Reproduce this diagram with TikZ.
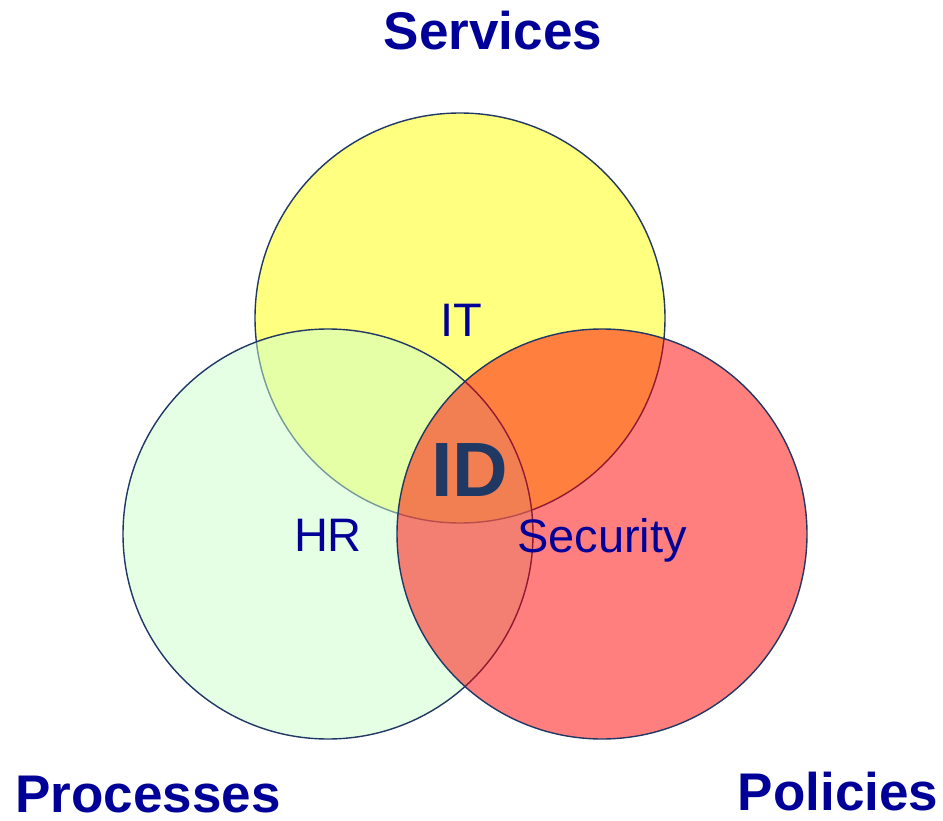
\documentclass[tikz,border=0pt]{standalone}
\usepackage{fontspec}
\setmainfont{Liberation Sans}
\usepackage{tikz}
\usetikzlibrary{positioning}
\definecolor{navyline}{HTML}{1F3864}
\definecolor{labelblue}{HTML}{000099}
\definecolor{setyellow}{HTML}{FFFF80}
\definecolor{setgreen}{HTML}{CCFFCC}
\definecolor{setred}{HTML}{FF0000}
\tikzstyle{set_circle}=[circle, inner sep=0pt, minimum size=410pt, draw=navyline, line width=1.4pt]
\tikzstyle{set_title}=[text=labelblue, inner sep=0pt, font=\fontsize{53}{60}\selectfont\bfseries]
\tikzstyle{set_label}=[text=labelblue, font=\fontsize{47}{54}\selectfont]

\begin{document}
\begin{tikzpicture}[x=1pt,y=-1pt]
\useasboundingbox (0,0) rectangle (943,821);
\node[set_circle, fill=setyellow] (svc) at (460,318){};
\node[set_circle, fill=setgreen, fill opacity=0.5] (proc) at (328,534){};
\node[set_circle, fill=setred, fill opacity=0.5] (pol) at (602,534){};
\node[set_label] (it) at (461,320){IT};
\node[set_label] (hr) at (328,535){HR};
\node[set_label] (sec) at (602,540){Security};
\node[text=navyline, font=\fontsize{77}{84}\selectfont\bfseries] (id) at (470,470){ID};
\node[set_title] (services) at (493,31){Services};
\node[set_title] (processes) at (148,795){Processes};
\node[set_title] (policies) at (838,792){Policies};
\end{tikzpicture}
\end{document}
